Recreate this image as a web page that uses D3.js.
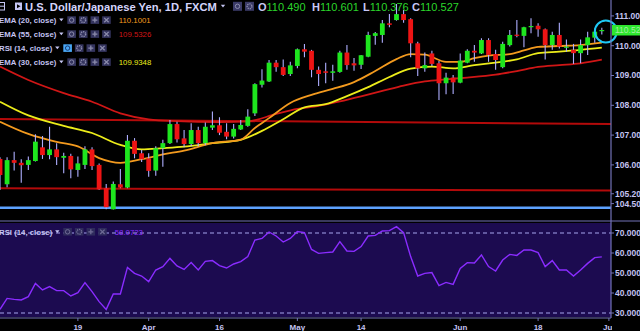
<!DOCTYPE html>
<html>
<head>
<meta charset="utf-8">
<script src="https://cdn.jsdelivr.net/npm/d3@7"></script>
<style>
  body { margin: 0; background: #000; overflow: hidden; }
  svg { display: block; }
  text { font-family: "Liberation Sans", Arial, sans-serif; }
</style>
</head>
<body>
<div id="chart"></div>
<script>
// --- data (USD/JPY daily) ---
let firstDay = new Date(2018, 2, 2);
let lastDay = new Date(2018, 6, 2);

let opens = [106.20, 105.35, 106.16, 106.07, 106.00, 106.13, 106.59, 106.33, 106.52, 106.24,
  106.30, 105.83, 106.00, 106.52, 106.00, 105.22, 104.51, 105.35, 105.24, 106.81,
  106.39, 106.22, 105.81, 106.56, 106.73, 107.37, 106.89, 106.70, 107.17, 106.73,
  107.25, 107.33, 107.11, 106.95, 107.19, 107.31, 107.73, 108.69, 108.80, 109.43,
  109.28, 109.05, 109.32, 109.88, 109.83, 109.19, 109.14, 109.09, 109.12, 109.77,
  109.41, 109.36, 109.63, 110.33, 110.36, 110.75, 110.86, 111.06, 110.89, 110.08,
  109.24, 109.74, 109.41, 108.74, 108.93, 108.76, 109.43, 109.83, 109.74, 110.19,
  109.72, 109.28, 110.02, 110.37, 110.33, 110.62, 110.67, 110.55, 110.02, 110.36,
  109.95, 109.86, 109.75, 110.02, 110.27, 110.490];
let highs = [106.26, 106.26, 106.44, 106.19, 106.28, 107.03, 106.97, 107.28, 106.73, 106.41,
  106.37, 106.28, 106.63, 106.59, 106.05, 105.36, 105.44, 105.86, 107.00, 106.90,
  106.50, 106.39, 106.63, 106.84, 107.51, 107.45, 107.17, 107.40, 107.28, 107.42,
  107.79, 107.60, 107.40, 107.37, 107.51, 107.87, 108.74, 109.21, 109.52, 109.52,
  109.54, 109.46, 109.91, 110.06, 109.86, 109.30, 109.43, 109.36, 109.83, 110.02,
  109.59, 109.69, 110.47, 110.46, 110.86, 111.06, 111.40, 111.20, 110.92, 110.13,
  109.77, 109.83, 109.49, 109.09, 109.02, 109.74, 109.88, 110.02, 110.25, 110.25,
  109.86, 110.13, 110.53, 110.86, 110.64, 110.92, 110.75, 110.58, 110.47, 110.77,
  110.21, 110.06, 110.21, 110.47, 110.58, 110.601];
let lows = [105.16, 105.25, 105.81, 105.40, 105.83, 106.11, 106.20, 106.19, 106.00, 105.72,
  105.55, 105.60, 105.86, 105.83, 105.17, 104.51, 104.50, 105.22, 105.22, 106.22,
  106.10, 105.60, 105.64, 105.94, 106.70, 106.75, 106.59, 106.63, 106.63, 106.66,
  107.17, 107.00, 106.86, 106.89, 107.17, 107.28, 107.64, 108.60, 108.78, 109.13,
  108.98, 108.98, 109.24, 109.61, 108.94, 108.65, 108.74, 108.82, 109.09, 109.19,
  109.16, 109.22, 109.61, 110.03, 110.10, 110.62, 110.84, 110.77, 109.61, 108.98,
  109.13, 109.32, 108.18, 108.37, 108.38, 108.74, 109.41, 109.46, 109.72, 109.46,
  109.19, 109.24, 109.97, 110.28, 109.95, 110.42, 110.30, 109.54, 109.86, 109.91,
  109.80, 109.39, 109.41, 109.69, 110.10, 110.376];
let closes = [105.66, 106.16, 106.07, 105.99, 106.16, 106.78, 106.33, 106.52, 106.26, 106.30,
  105.85, 106.05, 106.52, 105.96, 105.18, 104.58, 105.36, 105.24, 106.81, 106.37,
  106.19, 105.80, 106.56, 106.73, 107.37, 106.86, 106.70, 107.17, 106.73, 107.28,
  107.33, 107.08, 106.95, 107.21, 107.34, 107.62, 108.71, 108.83, 109.43, 109.28,
  109.02, 109.34, 109.88, 109.80, 109.19, 109.05, 109.09, 109.14, 109.77, 109.35,
  109.34, 109.68, 110.36, 110.42, 110.75, 110.70, 111.06, 110.86, 110.08, 109.24,
  109.35, 109.39, 108.74, 108.93, 108.77, 109.50, 109.83, 109.77, 110.19, 109.69,
  109.52, 110.06, 110.36, 110.33, 110.62, 110.66, 110.55, 110.02, 110.36, 109.97,
  109.97, 109.75, 110.02, 110.28, 110.47, 110.527];

// EMA readings as [day index, value]
let ema20 = [[0, 107.45], [4, 107.04], [8, 106.77], [11, 106.62], [14, 106.23], [17, 106.07],
  [20, 106.19], [23, 106.35], [26, 106.48], [30, 106.73], [34, 106.85], [36, 107.24],
  [38, 107.57], [41, 108.08], [44, 108.35], [47, 108.55], [50, 108.78], [53, 109.15],
  [56, 109.55], [58, 109.72], [60, 109.70], [63, 109.46], [65, 109.46], [67, 109.58],
  [69, 109.67], [72, 109.72], [74, 109.84], [76, 109.96], [79, 109.99], [82, 110.02], [85, 110.1001]];
let ema30 = [[0, 108.12], [4, 107.66], [9, 107.31], [13, 107.07], [17, 106.67], [20, 106.52],
  [23, 106.56], [26, 106.61], [30, 106.73], [34, 106.84], [37, 107.14], [40, 107.53],
  [43, 107.93], [46, 108.04], [49, 108.31], [52, 108.61], [55, 108.95], [58, 109.23],
  [61, 109.30], [64, 109.24], [67, 109.35], [70, 109.43], [73, 109.54], [76, 109.75],
  [79, 109.80], [82, 109.86], [85, 109.9348]];
let ema55 = [[0, 109.30], [4, 108.85], [9, 108.41], [13, 108.12], [17, 107.73], [21, 107.53],
  [25, 107.47], [31, 107.44], [35, 107.46], [39, 107.71], [42, 107.88], [45, 107.98],
  [48, 108.13], [51, 108.30], [54, 108.48], [57, 108.66], [60, 108.80], [63, 108.87],
  [66, 108.93], [70, 109.03], [73, 109.15], [76, 109.29], [79, 109.35], [82, 109.41], [85, 109.5326]];

// RSI(14) per candle
let rsi = [31.8, 37.3, 36.8, 36.5, 38.2, 44.8, 41.5, 43.2, 41.2, 41.2,
  38.5, 40.2, 45.2, 40.7, 35.7, 31.8, 39.5, 39.5, 52.8, 49.8,
  48.5, 45.7, 51.5, 53.2, 57.3, 53.5, 51.8, 55.2, 51.5, 55.8,
  56.2, 53.7, 52.5, 54.5, 55.7, 58.2, 66.5, 67.3, 70.5, 68.5,
  65.5, 67.3, 70.7, 70.2, 61.8, 59.8, 60.2, 60.5, 65.7, 61.0,
  60.8, 63.2, 68.5, 68.8, 71.0, 71.2, 73.2, 70.2, 58.2, 48.5,
  49.8, 50.2, 43.7, 45.3, 44.3, 52.3, 55.2, 55.0, 59.0, 53.2,
  51.0, 56.5, 59.3, 58.8, 61.5, 61.5, 60.2, 53.2, 56.2, 51.5,
  51.5, 48.5, 51.5, 54.8, 57.7, 58.0723];

// drawn levels: [start price, end price]
let resistanceLine = [107.54, 107.37];
let supportLine = [105.22, 105.14];
let blueLine = [104.56, 104.56];

let priceTicks = [106, 107, 108, 109, 110, 111];
let rsiTicks = [30, 40, 50, 60, 70];
let dateTicks = ["2018-03-19", "2018-04-02", "2018-04-16", "2018-05-01", "2018-05-14", "2018-06-01", "2018-06-18", "2018-07-02"];
let dateTickLabels = ["19", "Apr", "16", "May", "14", "Jun", "18", "Jul"];

let legendRows = [
  {name: "EMA (20, close)", value: "110.1001", color: "#f39a1e"},
  {name: "EMA (55, close)", value: "109.5326", color: "#d01616"},
  {name: "RSI (14, close)", value: "", color: "#8a2cff"},
  {name: "EMA (30, close)", value: "109.9348", color: "#ecec1a"}
];

// --- layout ---
let svgWidth = 640, svgHeight = 331;
let plotRight = 611;
let mainBottom = 220;
let rsiTop = 223, rsiBottom = 317;
let lav = "#c4c4f2";
let axisColor = "#7272b8";

let svg = d3.select("#chart").append("svg")
  .attr("width", svgWidth).attr("height", svgHeight);

svg.append("rect").attr("width", svgWidth).attr("height", svgHeight).attr("fill", "#000");

let defs = svg.append("defs");
defs.append("clipPath").attr("id", "mainClip").append("rect")
  .attr("x", 0).attr("y", 0).attr("width", plotRight).attr("height", mainBottom);
defs.append("clipPath").attr("id", "rsiClip").append("rect")
  .attr("x", 0).attr("y", rsiTop).attr("width", plotRight).attr("height", rsiBottom - rsiTop);
defs.append("clipPath").attr("id", "xClip").append("rect")
  .attr("x", 0).attr("y", 300).attr("width", plotRight + 1).attr("height", 40);

// trading days (weekdays)
let days = d3.timeDay.range(firstDay, d3.timeDay.offset(lastDay, 1))
  .filter(d => d.getDay() !== 0 && d.getDay() !== 6);
let fmt = d3.timeFormat("%Y-%m-%d");
let dayKeys = days.map(fmt);

let x = d3.scalePoint().domain(d3.range(days.length)).range([0, 608.9]);
let y = d3.scaleLinear().domain([104.5, 111]).range([209.6, 15.9]);
let yR = d3.scaleLinear().domain([30, 70]).range([313, 233]);

let candles = opens.map((o, i) => ({i: i, o: o, h: highs[i], l: lows[i], c: closes[i]}));

// --- main pane ---
let main = svg.append("g").attr("clip-path", "url(#mainClip)");

// levels
[[resistanceLine, "#b30a0a", 2], [supportLine, "#b30a0a", 2], [blueLine, "#5da2ff", 2.5]].forEach(([lv, col, w]) => {
  main.append("line")
    .attr("x1", 0).attr("x2", plotRight)
    .attr("y1", y(lv[0])).attr("y2", y(lv[1]))
    .attr("stroke", col).attr("stroke-width", w);
});

// EMAs
let emaLine = d3.line().x(d => x(d[0])).y(d => y(d[1])).curve(d3.curveMonotoneX);
[[ema55, "#d01616"], [ema30, "#ecec1a"], [ema20, "#f39a1e"]].forEach(([pts, col]) => {
  main.append("path").datum(pts)
    .attr("d", emaLine)
    .attr("fill", "none").attr("stroke", col).attr("stroke-width", 1.8);
});

// candles
main.selectAll(".wick").data(candles).join("line")
  .attr("class", "wick")
  .attr("x1", d => x(d.i)).attr("x2", d => x(d.i))
  .attr("y1", d => y(d.h)).attr("y2", d => y(d.l))
  .attr("stroke", "#aeaeff").attr("stroke-width", 1.1);

main.selectAll(".body").data(candles).join("rect")
  .attr("class", "body")
  .attr("x", d => x(d.i) - 2.4)
  .attr("width", 4.8)
  .attr("y", d => y(Math.max(d.o, d.c)))
  .attr("height", d => Math.max(1.2, Math.abs(y(d.o) - y(d.c))))
  .attr("fill", d => d.c >= d.o ? "#1ee61e" : "#ee1414");

// highlight circle on last candle
let lastC = candles[candles.length - 1];
svg.append("circle")
  .attr("cx", x(lastC.i) + 4).attr("cy", y(lastC.c) + 1.5).attr("r", 11)
  .attr("fill", "none").attr("stroke", "#1ec8f5").attr("stroke-width", 2);

// --- RSI pane ---
svg.append("rect")
  .attr("x", 0).attr("y", rsiTop).attr("width", plotRight).attr("height", rsiBottom - rsiTop)
  .attr("fill", "#1c0b50");

[70, 30].forEach(v => {
  svg.append("line")
    .attr("x1", 0).attr("x2", plotRight).attr("y1", yR(v)).attr("y2", yR(v))
    .attr("stroke", "#a6a6ee").attr("stroke-width", 1).attr("stroke-dasharray", "4,3");
});

svg.append("g").attr("clip-path", "url(#rsiClip)")
  .append("path").datum(rsi)
  .attr("d", d3.line().x((d, i) => x(i)).y(d => yR(d)))
  .attr("fill", "none").attr("stroke", "#8a2cff").attr("stroke-width", 1.4);

// --- frames / axes ---
svg.append("line").attr("x1", 0).attr("x2", svgWidth).attr("y1", 221).attr("y2", 221)
  .attr("stroke", axisColor).attr("stroke-width", 1.2);
svg.append("line").attr("x1", 0).attr("x2", plotRight).attr("y1", 318).attr("y2", 318)
  .attr("stroke", axisColor).attr("stroke-width", 1.2);
svg.append("line").attr("x1", plotRight).attr("x2", plotRight).attr("y1", 0).attr("y2", 318)
  .attr("stroke", axisColor).attr("stroke-width", 1.2);

function rightLabel(yPos, label) {
  svg.append("line").attr("x1", plotRight).attr("x2", plotRight + 3)
    .attr("y1", yPos).attr("y2", yPos).attr("stroke", axisColor);
  svg.append("text").attr("x", plotRight + 4).attr("y", yPos).attr("dy", "0.35em")
    .attr("font-size", 8.5).attr("font-weight", "bold").attr("fill", lav).text(label);
}
priceTicks.forEach(p => rightLabel(y(p), d3.format(".3f")(p)));
rightLabel(y(105.2) + 5, "105.200");
rightLabel(y(104.5) - 6, "104.500");
rsiTicks.forEach(v => rightLabel(yR(v), d3.format(".3f")(v)));

// current price tag
svg.append("rect").attr("x", plotRight + 1).attr("y", y(lastC.c) - 5)
  .attr("width", 30).attr("height", 10.5).attr("fill", "#2ee82e");
svg.append("text").attr("x", plotRight + 4).attr("y", y(lastC.c)).attr("dy", "0.35em")
  .attr("font-size", 8.5).attr("fill", "#a6eea6").text(d3.format(".3f")(lastC.c));

// date axis
let xAxisG = svg.append("g").attr("clip-path", "url(#xClip)");
dateTicks.forEach((dk, k) => {
  let xi = x(dayKeys.indexOf(dk));
  xAxisG.append("line").attr("x1", xi).attr("x2", xi).attr("y1", 318).attr("y2", 321)
    .attr("stroke", axisColor);
  xAxisG.append("text").attr("x", xi).attr("y", 329.5).attr("text-anchor", "middle")
    .attr("font-size", 8).attr("font-weight", "bold").attr("fill", lav).text(dateTickLabels[k]);
});

// --- header / legends ---
function iconBox(g, bx, by, w, h, kind, fill, glyph) {
  g.append("rect").attr("x", bx).attr("y", by).attr("width", w).attr("height", h).attr("fill", fill);
  let cx = bx + w / 2, cy = by + h / 2;
  if (kind === "eye") {
    g.append("circle").attr("cx", cx).attr("cy", cy).attr("r", 2.2).attr("fill", "none").attr("stroke", glyph);
  } else if (kind === "gear") {
    g.append("circle").attr("cx", cx).attr("cy", cy).attr("r", 2.4).attr("fill", "none")
      .attr("stroke", glyph).attr("stroke-width", 1.4).attr("stroke-dasharray", "1.2,0.8");
  } else if (kind === "plus") {
    g.append("path").attr("d", `M${cx - 2.5},${cy}H${cx + 2.5}M${cx},${cy - 2.5}V${cy + 2.5}`)
      .attr("stroke", glyph).attr("stroke-width", 1.3);
  } else {
    g.append("path").attr("d", `M${cx - 2.2},${cy - 2.2}L${cx + 2.2},${cy + 2.2}M${cx + 2.2},${cy - 2.2}L${cx - 2.2},${cy + 2.2}`)
      .attr("stroke", glyph).attr("stroke-width", 1.3);
  }
}

function caret(g, cx, cy) {
  g.append("path").attr("d", `M${cx - 2.2},${cy - 1.2}L${cx + 2.2},${cy - 1.2}L${cx},${cy + 1.4}Z`).attr("fill", lav);
}

let header = svg.append("g");
header.append("rect").attr("x", -1.5).attr("y", 2.5).attr("width", 6).attr("height", 7.5)
  .attr("fill", "none").attr("stroke", lav);
header.append("line").attr("x1", -1).attr("x2", 4).attr("y1", 6.2).attr("y2", 6.2).attr("stroke", lav);
header.append("path").attr("d", "M15,2.5H22V10H15Z M17,4.2V8.3L20.5,6.2Z").attr("fill", lav).attr("fill-rule", "evenodd");
let title = header.append("text").attr("x", 25).attr("y", 10.5)
  .attr("font-size", 11.2).attr("font-weight", "bold").attr("fill", "#d4d4fa")
  .text("U.S. Dollar/Japanese Yen, 1D, FXCM");
caret(header, 223, 6);
iconBox(header, 233, 1.8, 9, 9, "eye", "#3a3a66", "#8c8cac");
iconBox(header, 245, 1.8, 9, 9, "gear", "#3a3a66", "#8c8cac");

let ohlc = [["O", lastC.o, 258], ["H", lastC.h, 312], ["L", lastC.l, 363], ["C", lastC.c, 412]];
ohlc.forEach(([k, v, xx]) => {
  let t = header.append("text").attr("x", xx).attr("y", 10.5).attr("font-size", 11);
  t.append("tspan").attr("fill", "#c8c8f6").attr("font-weight", "bold").text(k);
  t.append("tspan").attr("fill", "#2bd62b").text(d3.format(".3f")(v));
});

function legendRow(g, row, baseY, faded) {
  let t = g.append("text").attr("x", -1).attr("y", baseY)
    .attr("font-size", 7.8).attr("font-weight", "bold").attr("fill", lav).text(row.name);
  let endX = t.node().getComputedTextLength() - 1;
  caret(g, endX + 5, baseY - 3);
  let bx = endX + 11;
  let kinds = ["eye", "gear", "plus", "x"];
  kinds.forEach((kd, k) => {
    let hl = (row.name.startsWith("RSI") && k === 0 && !faded);
    iconBox(g, bx + k * 11.6, baseY - 6.5, 8.6, 7.6, kd,
      hl ? "#4aa8f6" : (faded ? "#2e2a5c" : "#34345e"),
      hl ? "#1a3a70" : (faded ? "#6e6a94" : "#8c8cac"));
  });
  if (row.value) {
    g.append("text").attr("x", bx + 4 * 11.6 + 5).attr("y", baseY)
      .attr("font-size", 7.8).attr("fill", row.color).text(row.value);
  }
}

legendRows.forEach((row, k) => legendRow(header, row, 22.8 + k * 14, false));
legendRow(svg.append("g"), {name: "RSI (14, close)", value: rsi[rsi.length - 1].toFixed(4), color: "#8a2cff"}, 234.5, true);
</script>
</body>
</html>
